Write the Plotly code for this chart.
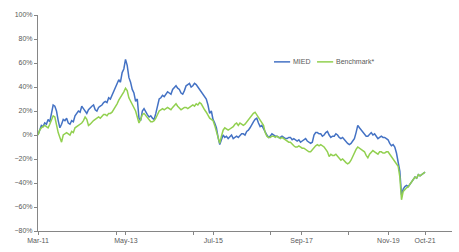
import plotly.graph_objects as go

# period index in half-month steps (months since Mar-11, axis is index based)
period = [i * 0.5 for i in range(231)]

mied = [0, 5, 8, 7, 10, 9, 13, 11, 20, 25,
        24, 20, 12, 6, 9, 13, 12, 14, 10, 9,
        12, 11, 16, 18, 20, 19, 24, 22, 20, 18,
        21, 23, 24, 25, 21, 20, 23, 24, 25, 27,
        28, 27, 31, 30, 33, 36, 40, 42, 46, 44,
        52, 55, 63, 58, 48, 44, 38, 35, 28, 30,
        14, 12, 20, 22, 19, 17, 15, 16, 14, 13,
        18, 24, 30, 31, 33, 32, 34, 36, 35, 34,
        38, 40, 41, 39, 38, 35, 34, 37, 41, 42,
        43, 40, 41, 43, 42, 40, 38, 37, 34, 33,
        30, 25, 18, 20, 13, 10, 6, -2, -8, -4,
        0, -2, -1, -3, -1, 0, -3, -2, -1, -2,
        0, 1, 1, 0, 3, 4, 6, 9, 11, 13,
        14, 10, 7, 8, 5, 3, 0, -2, -1, 1,
        0, -1, -1, -2, -2, -1, -2, -3, -3, -2,
        -2, -4, -3, -4, -5, -4, -6, -5, -4, -3,
        -5, -6, -7, -6, 0, 2, 2, 1, 1, -1,
        0, 2, 3, 0, -2, -1, -1, 1, 0, -2,
        -3, -2, -4, -6, -7, -8, -7, -5, -3, 2,
        8, 6, 4, 2, 0, -1, -1, 1, 2, 0,
        1, -1, -3, -2, -1, -2, -2, -3, -4, -7,
        -9, -8, -10, -15, -22, -30, -50, -45, -43, -42,
        -43, -41, -39, -37, -35, -36, -33, -34, -33, -32,
        -31]

benchmark = [0, 4, 6, 7, 8, 7, 6, 9, 12, 16,
             15, 8, 2, -2, -6, 0, 1, 2, 1, 0,
             3, 2, 6, 7, 8, 9, 10, 12, 15, 13,
             8, 9, 11, 12, 13, 14, 15, 14, 16, 17,
             17, 16, 18, 18, 19, 21, 24, 26, 29, 31,
             34, 36, 39, 37, 31, 28, 26, 23, 20, 15,
             10, 13, 17, 18, 16, 14, 12, 11, 11, 12,
             14, 17, 20, 21, 22, 21, 22, 23, 22, 21,
             23, 25, 26, 24, 22, 21, 22, 23, 23, 22,
             23, 24, 25, 24, 26, 25, 27, 26, 23, 21,
             19, 16, 14, 13, 12, 8, 3, -3, -7, -1,
             4, 6, 5, 4, 5, 6, 7, 9, 10, 8,
             10, 9, 8, 9, 11, 13, 15, 17, 18, 19,
             17, 14, 12, 10, 8, 2, -1, -2, -2, -1,
             -1, -2, -1, -2, -3, -2, -3, -4, -5, -6,
             -6, -8, -9, -10, -10, -9, -10, -11, -11, -12,
             -13, -14, -14, -12, -10, -9, -8, -9, -8, -9,
             -10, -12, -14, -18, -16, -17, -17, -16, -18, -20,
             -21, -20, -22, -23, -24, -23, -21, -18, -14, -12,
             -10, -11, -12, -13, -14, -17, -19, -16, -14, -13,
             -14, -15, -16, -14, -14, -15, -15, -14, -14, -16,
             -18, -20, -21, -23, -26, -35, -54, -47, -45, -44,
             -43, -41, -39, -37, -35, -36, -33, -34, -33, -32,
             -31]

tick_pos = [0, 26.1, 52.1, 78.3, 104.1, 115.0]
tick_text = ["Mar-11", "May-13", "Jul-15", "Sep-17", "Nov-19", "Oct-21"]
minor_pos = [23.4, 46.1, 69.1, 92.2]

series_names = ["MIED", "Benchmark*"]
series_colors = ["#4472C4", "#92D050"]

fig = go.Figure()
fig.add_trace(go.Scatter(x=period, y=mied, mode="lines", name=series_names[0],
                         line=dict(color=series_colors[0], width=1.5)))
fig.add_trace(go.Scatter(x=period, y=benchmark, mode="lines", name=series_names[1],
                         line=dict(color=series_colors[1], width=1.5)))

axis_gray = "#868686"
text_gray = "#595959"
font = dict(family="Liberation Sans, Arial, sans-serif", size=7, color=text_gray)

fig.update_layout(
    width=459, height=252,
    margin=dict(l=38, r=7, t=15, b=14),
    paper_bgcolor="white", plot_bgcolor="white",
    showlegend=False,
    font=font,
    xaxis=dict(range=[0, 123], tickmode="array", tickvals=tick_pos, ticktext=tick_text,
               showgrid=False, zeroline=False, showline=True, linecolor=axis_gray, linewidth=1,
               ticks="outside", ticklen=3, tickcolor=axis_gray, tickfont=font,
               minor=dict(tickmode="array", tickvals=minor_pos, ticks="outside",
                          ticklen=3, tickcolor=axis_gray, showgrid=False)),
    yaxis=dict(range=[-80, 100], tickmode="linear", tick0=-80, dtick=20, ticksuffix="%",
               showgrid=False, zeroline=False, showline=True, linecolor=axis_gray, linewidth=1,
               ticks="outside", ticklen=3, tickcolor=axis_gray, tickfont=font),
)

# legend drawn as line samples + text
leg_y = 0.783
leg_items = [(0.570, 0.609, 0.611), (0.674, 0.713, 0.715)]
for (x0, x1, xt), name, col in zip(leg_items, series_names, series_colors):
    fig.add_shape(type="line", xref="paper", yref="paper", x0=x0, x1=x1, y0=leg_y, y1=leg_y,
                  line=dict(color=col, width=1.5))
    fig.add_annotation(xref="paper", yref="paper", x=xt, y=leg_y, text=name, showarrow=False,
                       xanchor="left", yanchor="middle", font=font)

fig.write_html("out.html", config={"displayModeBar": False},
               post_script="document.body.style.margin='0';")
